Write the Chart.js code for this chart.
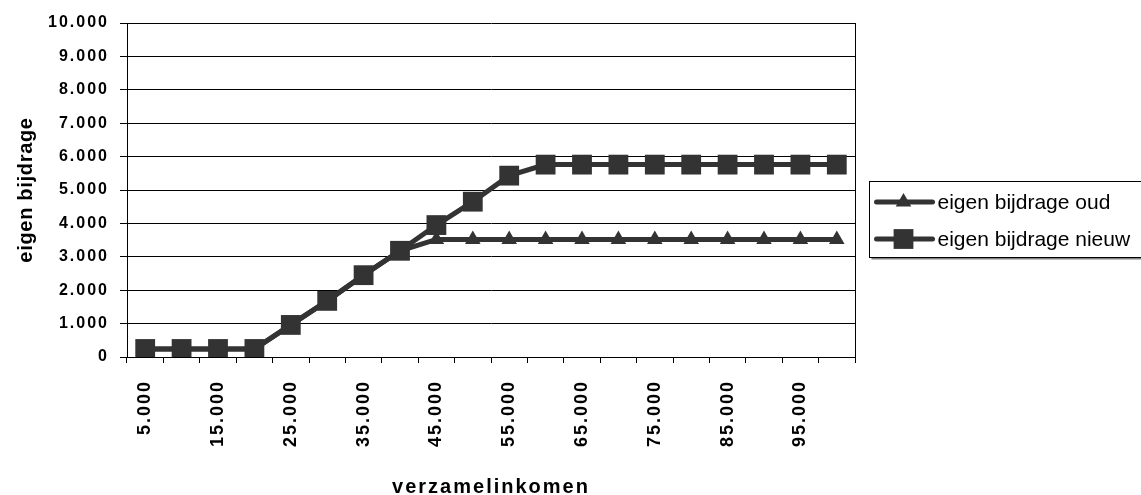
<!DOCTYPE html>
<html>
<head>
<meta charset="utf-8">
<script src="https://cdn.jsdelivr.net/npm/chart.js@4.4.0/dist/chart.umd.min.js"></script>
<style>
  html, body { margin:0; padding:0; background:#fff; }
  #wrap { width:1141px; height:495px; position:relative; }
</style>
</head>
<body>
<div id="wrap"><canvas id="chart"></canvas></div>
<script>
'use strict';

// data
const categories = ['5.000','10.000','15.000','20.000','25.000','30.000','35.000','40.000','45.000','50.000',
                    '55.000','60.000','65.000','70.000','75.000','80.000','85.000','90.000','95.000','100.000'];
const oud   = [240,240,240,240,960,1680,2450,3180,3520,3520,3520,3520,3520,3520,3520,3520,3520,3520,3520,3520];
const nieuw = [240,240,240,240,960,1680,2450,3180,3950,4650,5430,5760,5760,5760,5760,5760,5760,5760,5760,5760];
const seriesNames = ['eigen bijdrage oud','eigen bijdrage nieuw'];
const yTickLabels = ['0','1.000','2.000','3.000','4.000','5.000','6.000','7.000','8.000','9.000','10.000'];
const xTitle = 'verzamelinkomen';
const yTitle = 'eigen bijdrage';

const INK = '#333333';
Chart.defaults.font.family = '"Liberation Sans", Arial, sans-serif';
Chart.defaults.color = '#000';

// excel-like spaced lettering on a scale's title
function spacedTitle(scale, spacing){
  if (scale._spaced) return;
  const orig = scale.drawTitle.bind(scale);
  scale.drawTitle = function(){
    const c = scale.ctx, prev = c.letterSpacing;
    c.letterSpacing = spacing; orig(); c.letterSpacing = prev;
  };
  scale._spaced = true;
}

// spaced axis text, right border of the plot, boxed legend
const frame = {
  id:'frame',
  beforeDraw(chart){ chart.ctx.letterSpacing = '2px'; },
  beforeDatasetsDraw(chart){ chart.ctx.letterSpacing = '0px'; },
  afterDraw(chart){
    const { ctx, chartArea:a } = chart;
    ctx.save();
    ctx.letterSpacing = '0px';
    ctx.strokeStyle = '#000'; ctx.lineWidth = 1;
    const rx = Math.round(a.right) + 0.5;
    ctx.beginPath(); ctx.moveTo(rx, Math.round(a.top)); ctx.lineTo(rx, Math.round(a.bottom)); ctx.stroke();

    const bx = Math.round(a.right) + 14.5, by = 181.5, bw = 300, bh = 76;
    ctx.fillStyle = '#808080'; ctx.fillRect(bx + 2, by + 2, bw, bh);
    ctx.fillStyle = '#fff'; ctx.fillRect(bx, by, bw, bh);
    ctx.strokeStyle = '#000'; ctx.strokeRect(bx, by, bw, bh);

    const rows = [202, 239];
    chart.data.datasets.forEach((ds, i) => {
      const y = rows[i];
      ctx.strokeStyle = ds.borderColor; ctx.lineWidth = ds.borderWidth; ctx.lineCap = 'round';
      ctx.beginPath(); ctx.moveTo(bx + 7, y); ctx.lineTo(bx + 63, y); ctx.stroke();
      const mx = bx + 34;
      ctx.fillStyle = ds.pointBackgroundColor;
      ctx.beginPath();
      if (ds.pointStyle === 'rect') {
        const s = ds.pointRadius * Math.SQRT1_2;
        ctx.rect(mx - s, y - s, 2 * s, 2 * s);
      } else {
        const r = ds.pointRadius;
        ctx.moveTo(mx, y - r);
        ctx.lineTo(mx + r * Math.sqrt(3) / 2, y + r / 2);
        ctx.lineTo(mx - r * Math.sqrt(3) / 2, y + r / 2);
        ctx.closePath();
      }
      ctx.fill();
      ctx.fillStyle = '#000';
      ctx.font = '21px "Liberation Sans", Arial, sans-serif';
      ctx.textBaseline = 'middle'; ctx.textAlign = 'left';
      ctx.fillText(ds.label, bx + 68, y + 1);
    });
    ctx.restore();
  }
};

new Chart(document.getElementById('chart').getContext('2d'), {
  type:'line',
  data:{
    labels:categories,
    datasets:[
      { label:seriesNames[0], data:oud, borderColor:INK, backgroundColor:INK, borderWidth:5, tension:0,
        pointStyle:'triangle', pointRadius:9, pointBackgroundColor:INK, pointBorderWidth:0, order:1 },
      { label:seriesNames[1], data:nieuw, borderColor:INK, backgroundColor:INK, borderWidth:5, tension:0,
        pointStyle:'rect', pointRadius:14, pointBackgroundColor:INK, pointBorderWidth:0, order:0 }
    ]
  },
  options:{
    responsive:true, maintainAspectRatio:false, animation:false,
    layout:{ padding:{ top:23, right:286, left:0, bottom:0 } },
    plugins:{ legend:{ display:false }, tooltip:{ enabled:false } },
    scales:{
      x:{
        offset:true,
        grid:{ offset:true, drawOnChartArea:false, drawTicks:true, tickLength:6, color:'#000', tickColor:'#000' },
        border:{ color:'#000', width:1 },
        ticks:{ autoSkip:false, minRotation:90, maxRotation:90, padding:17, color:'#000',
                font:{ size:18, weight:'bold' }, callback:(v, i) => i % 2 === 0 ? categories[i] : '' },
        title:{ display:true, text:xTitle, color:'#000', font:{ size:20, weight:'bold', lineHeight:0.8 }, padding:{ top:0, bottom:0 } },
        afterFit(s){ s.height = 138; }
      },
      y:{
        min:0, max:10000,
        grid:{ color:'#000', tickColor:'#000', tickLength:7, drawTicks:true },
        border:{ color:'#000', width:1 },
        ticks:{ stepSize:1000, padding:11, color:'#000', font:{ size:16, weight:'bold' }, callback:(v, i) => yTickLabels[i] },
        title:{ display:true, text:yTitle, color:'#000', font:{ size:20, weight:'bold', lineHeight:1 }, padding:{ top:16, bottom:0 } },
        afterFit(s){ s.width = 127; spacedTitle(s, '0.7px'); }
      }
    }
  },
  plugins:[frame]
});
</script>
</body>
</html>
